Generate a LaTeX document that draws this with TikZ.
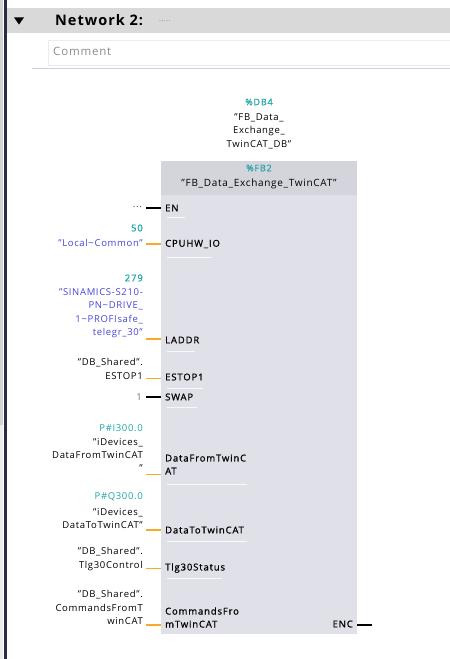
\documentclass[tikz,border=0pt]{standalone}
\usepackage{fontspec}
\setmainfont[LetterSpace=7]{Open Sans}
\newfontfamily\pinfont[LetterSpace=9,FakeBold=0.8]{Open Sans}
\usetikzlibrary{shapes.geometric}
\definecolor{tiateal}{RGB}{30,165,165}
\definecolor{tiablue}{RGB}{70,70,215}
\definecolor{tiaorange}{RGB}{250,168,40}
\definecolor{blockgray}{RGB}{224,224,232}
\definecolor{headgray}{RGB}{212,212,221}
\definecolor{bargray}{RGB}{217,217,217}
\definecolor{navybar}{RGB}{40,46,62}
\definecolor{ruleblue}{RGB}{205,205,238}
\begin{document}
\begin{tikzpicture}[
        x=1pt, y=-1pt,
        pin/.style={
            anchor=west,
            inner xsep=4pt,
            inner ysep=0pt,
            align=left,
            font=\pinfont\fontsize{9.5}{13}\selectfont
        },
        operand/.style={
            anchor=east,
            inner sep=0pt,
            align=right,
            font=\fontsize{9.5}{13.4}\selectfont
        },
        address/.style={operand, text=tiateal},
        symbol/.style={operand, text=tiablue},
        boolwire/.style={draw=black, line width=2pt},
        datawire/.style={draw=tiaorange, line width=2pt},
        thinwire/.style={draw=tiaorange, line width=1pt},
        sep/.style={draw=white, line width=0.8pt, opacity=0.8}
    ]
        \useasboundingbox (0,0) rectangle (450,659);
        \fill[white] (0,0) rectangle (450,659);
        \fill[gray!35] (0,0) rectangle (3,425);
        \fill[gray!15] (0,425) rectangle (3,659);
        \fill[navybar] (3.5,0) rectangle (6.5,659);

        \node[fill=bargray, minimum width=443, minimum height=25, anchor=north west, inner sep=0pt] (netbar) at (7,8) {};
        \node[isosceles triangle, isosceles triangle apex angle=70, shape border rotate=-90, fill=black, inner sep=0pt, minimum width=10, minimum height=6] (fold) at (19,20) {};
        \node[anchor=west, inner sep=0pt, font=\fontsize{14.5}{16}\selectfont\bfseries] (nettitle) at (55,20.5) {Network 2:};
        \node[anchor=west, inner sep=0pt, text=gray, font=\fontsize{7}{8}\selectfont] (nettext) at (159,21) {.....};

        \node[draw=gray!15, fill=white, minimum width=402, minimum height=25, anchor=north west, inner sep=0pt] (commentbox) at (48,40) {};
        \node[anchor=west, inner sep=0pt, text=gray!90, font=\fontsize{11.5}{13}\selectfont] (comment) at (53,51) {Comment};
        \draw[ruleblue, line width=0.8pt] (32,68) -- (450,68);

        \node[address, anchor=center, font=\pinfont\fontsize{9}{11}\selectfont] (dbnum) at (259,102) {\%DB4};
        \node[operand, anchor=center, align=center] (dbname) at (259,131) {"FB\_Data\_\\Exchange\_\\TwinCAT\_DB"};

        \node[fill=blockgray, minimum width=196, minimum height=473, anchor=north west, inner sep=0pt] (blk) at (161,161) {};
        \node[fill=headgray, minimum width=196, minimum height=34, anchor=north west, inner sep=0pt] (blkhead) at (161,161) {};
        \node[address, anchor=center, font=\pinfont\fontsize{9}{11}\selectfont] (fbnum) at (259,168) {\%FB2};
        \node[operand, anchor=center, font=\fontsize{10}{12}\selectfont] (fbname) at (259,184) {"FB\_Data\_Exchange\_TwinCAT"};

        \node[pin] (en) at (161,208) {EN};
        \node[pin] (cpuhw) at (161,244) {CPUHW\_IO};
        \node[pin] (laddr) at (161,340) {LADDR};
        \node[pin] (estop) at (161,377) {ESTOP1};
        \node[pin] (swap) at (161,397) {SWAP};
        \node[pin] (dfrom) at (161,464.5) {DataFromTwinC\\AT};
        \node[pin] (dto) at (161,530) {DataToTwinCAT};
        \node[pin] (tlg) at (161,568) {Tlg30Status};
        \node[pin] (cmd) at (161,617.5) {CommandsFro\\mTwinCAT};
        \node[pin, anchor=east] (enc) at (357,624) {ENC};

        \foreach \y/\len in {217/18, 257/45, 351/28, 388/36, 407/30, 484/80, 541/80, 578/55}
            \draw[sep] (167,\y) -- ++(\len,0);

        \node[operand, text=black!70] (enval) at (142,207) {...};
        \node[address, font=\pinfont\fontsize{9.5}{11}\selectfont] (cpuaddr) at (143,228) {50};
        \node[symbol] (cpusym) at (143,243) {"Local\textasciitilde Common"};
        \node[address, font=\pinfont\fontsize{9.5}{11}\selectfont] (laddraddr) at (143,278) {279};
        \node[symbol] (laddrsym) at (143,313) {"SINAMICS-S210-\\PN\textasciitilde DRIVE\_\\1\textasciitilde PROFIsafe\_\\telegr\_30"};
        \node[operand] (estopval) at (143,369) {"DB\_Shared".\\ESTOP1};
        \node[operand, text=black!55] (swapval) at (142,397) {1};
        \node[address] (dfromaddr) at (143,428) {P\#I300.0};
        \node[operand] (dfromval) at (143,455) {"iDevices\_\\DataFromTwinCAT\\"};
        \node[address] (dtoaddr) at (143,497) {P\#Q300.0};
        \node[operand] (dtoval) at (143,518.5) {"iDevices\_\\DataToTwinCAT"};
        \node[operand] (tlgval) at (143,559) {"DB\_Shared".\\Tlg30Control};
        \node[operand] (cmdval) at (143,607.5) {"DB\_Shared".\\CommandsFromT\\winCAT};

        \coordinate (enL) at (146,208);
        \coordinate (cpuhwL) at (146,244);
        \coordinate (laddrL) at (146,339);
        \coordinate (estopL) at (146,378);
        \coordinate (swapL) at (146,397);
        \coordinate (dfromL) at (146,474);
        \coordinate (dtoL) at (146,530);
        \coordinate (tlgL) at (146,568);
        \coordinate (cmdL) at (146,625);
        \coordinate (encR) at (372,625);

        \draw[boolwire] (enL) -- (enL -| blk.west);
        \draw[datawire] (cpuhwL) -- (cpuhwL -| blk.west);
        \draw[datawire] (laddrL) -- (laddrL -| blk.west);
        \draw[thinwire] (estopL) -- (estopL -| blk.west);
        \draw[boolwire] (swapL) -- (swapL -| blk.west);
        \draw[thinwire] (dfromL) -- (dfromL -| blk.west);
        \draw[datawire] (dtoL) -- (dtoL -| blk.west);
        \draw[thinwire] (tlgL) -- (tlgL -| blk.west);
        \draw[datawire] (cmdL) -- (cmdL -| blk.west);
        \draw[boolwire] (encR -| blk.east) -- (encR);
    \end{tikzpicture}
\end{document}
